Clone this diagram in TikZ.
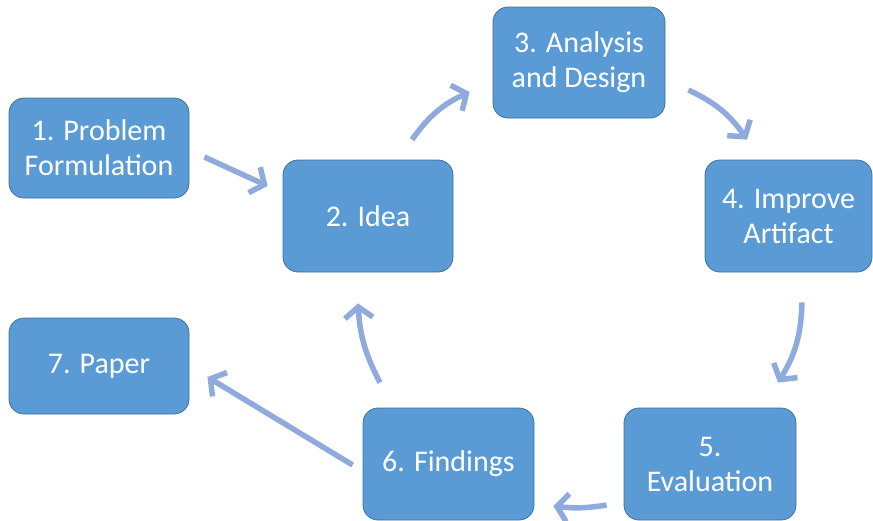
\documentclass[tikz,border=0pt]{standalone}
\usepackage{fontspec}
\setmainfont{Carlito}
\usepackage{xcolor}
\usetikzlibrary{arrows.meta}
\definecolor{boxblue}{HTML}{5B9BD5}
\definecolor{boxedge}{HTML}{41719C}
\definecolor{flowblue}{HTML}{8FAADC}

\begin{document}
\begin{tikzpicture}[x=1pt, y=-1pt,
	phase/.style={rectangle, draw=boxedge, line width=0.8pt, fill=boxblue, text=white, rounded corners=15, align=center, inner sep=0pt, font=\fontsize{30}{35}\selectfont},
	flow/.style={draw=flowblue, line width=5.5pt, -{Straight Barb[length=11pt, width=28pt, line width=5.5pt]}},
	]
		\useasboundingbox (0,0) rectangle (873,520);

		%Nodes
		\node[phase, minimum width=180, minimum height=100] (Problem)  at (99,148)    {1. Problem\\Formulation};
		\node[phase, minimum width=170, minimum height=112] (Idea)     at (368,216)   {2. Idea};
		\node[phase, minimum width=172, minimum height=111] (Analysis) at (579,62.5)  {3. Analysis\\and Design};
		\node[phase, minimum width=167, minimum height=112] (Improve)  at (788.5,216) {4. Improve\\Artifact};
		\node[phase, minimum width=172, minimum height=112] (Eval)     at (710,464)   {5.\\Evaluation};
		\node[phase, minimum width=171, minimum height=112] (Findings) at (448.5,464) {6. Findings};
		\node[phase, minimum width=180, minimum height=96]  (Paper)    at (99,366)    {7. Paper};

		%Lines
		\draw[flow] ([xshift=15pt, yshift=-9pt]Problem.east) -- ([xshift=-15pt, yshift=30pt]Idea.west);
		\draw[flow] ([xshift=44pt, yshift=20pt]Idea.north) to[bend left=15] ([xshift=-23pt, yshift=-29.5pt]Analysis.west);
		\draw[flow] ([xshift=23pt, yshift=-27.5pt]Analysis.east) to[bend left=15] ([xshift=-41.5pt, yshift=20pt]Improve.north);
		\draw[flow] ([xshift=13.5pt, yshift=-30pt]Improve.south) to[bend left=15] ([xshift=68pt, yshift=25pt]Eval.north);
		\draw[flow] ([xshift=-17pt, yshift=-41pt]Eval.west) to[bend left=8] ([xshift=19pt, yshift=-42pt]Findings.east);
		\draw[flow] ([xshift=-68.5pt, yshift=25pt]Findings.north) to[bend left=12] ([xshift=-10pt, yshift=-31pt]Idea.south);
		\draw[flow] ([xshift=-10pt, yshift=-1pt]Findings.west) -- ([xshift=18pt, yshift=-11pt]Paper.east);
	\end{tikzpicture}
\end{document}
